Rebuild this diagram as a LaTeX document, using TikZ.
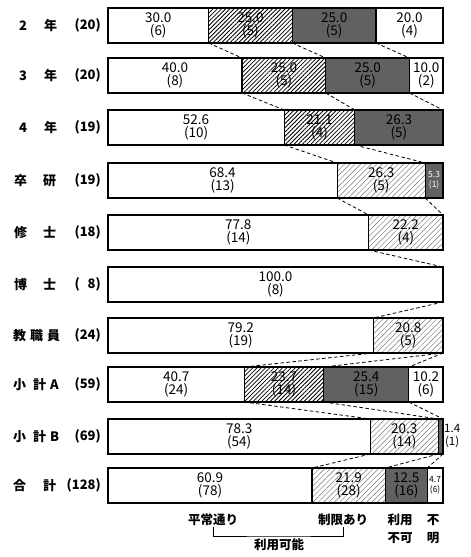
\documentclass[tikz,border=0pt]{standalone}
\usepackage{fontspec}
\setmainfont{Noto Sans CJK JP}
\usepackage{tikz}
\usetikzlibrary{positioning, patterns.meta}

\begin{document}
\begin{tikzpicture}
  [
    x=1pt, y=-1pt,
    font=\fontsize{13.5}{13.5}\selectfont,
    Seg/.style={rectangle, draw=black, line width=1.1pt, inner sep=0pt, outer sep=0pt, minimum height=35pt, align=center, text=black},
    pct/.style={minimum width=#1*3.35pt},
    Plain/.style={Seg, fill=white},
    Hatch/.style={Seg, pattern={Lines[angle=45, distance=3pt, line width=0.8pt]}},
    Light/.style={Seg, pattern={Lines[angle=45, distance=3.8pt, line width=0.45pt]}, pattern color=black!55},
    Dark/.style={Seg, fill=black!62},
    Small/.style={font=\fontsize{8.5}{10}\selectfont},
    Name/.style={anchor=west, font=\fontsize{13}{14}\selectfont\bfseries, inner sep=0pt},
    Count/.style={anchor=east, font=\fontsize{13}{14}\selectfont\bfseries, inner sep=0pt},
    Link/.style={draw, dash pattern=on 3.5pt off 2.5pt, line width=0.8pt},
    Legend/.style={font=\fontsize{12.5}{18}\selectfont\bfseries, inner sep=1pt, align=center}
  ]
  \useasboundingbox (0,0) rectangle (471,557);

  % Row labels
  \node[Name] (n2) at (19,25.5) {2\hspace{17pt}年};
  \node[Count] (c2) at (101,25.5) {(20)};
  \node[Name] (n3) at (19,75.5) {3\hspace{17pt}年};
  \node[Count] (c3) at (101,75.5) {(20)};
  \node[Name] (n4) at (19,127.5) {4\hspace{17pt}年};
  \node[Count] (c4) at (101,127.5) {(19)};
  \node[Name] (nsk) at (14,180.5) {卒\hspace{16pt}研};
  \node[Count] (csk) at (101,180.5) {(19)};
  \node[Name] (nms) at (14,232.5) {修\hspace{16pt}士};
  \node[Count] (cms) at (101,232.5) {(18)};
  \node[Name] (ndr) at (14,284.5) {博\hspace{16pt}士};
  \node[Count] (cdr) at (101,284.5) {(\hphantom{0}8)};
  \node[Name] (nst) at (13,335.5) {教\hspace{4pt}職\hspace{4pt}員};
  \node[Count] (cst) at (101,335.5) {(24)};
  \node[Name] (nsa) at (13,384.5) {小\hspace{7pt}計\hspace{4pt}A};
  \node[Count] (csa) at (101,384.5) {(59)};
  \node[Name] (nsb) at (13,436.5) {小\hspace{7pt}計\hspace{4pt}B};
  \node[Count] (csb) at (101,436.5) {(69)};
  \node[Name] (ntt) at (13,485.5) {合\hspace{17pt}計};
  \node[Count] (ctt) at (101,485.5) {(128)};

  % Bars
  \node[Plain, pct=30.0, anchor=west] (y2a) at (108,25.5) {30.0\\(6)};
  \node[Hatch, pct=25.0, right=0pt of y2a] (y2b) {25.0\\(5)};
  \node[Dark, pct=25.0, right=0pt of y2b] (y2c) {25.0\\(5)};
  \node[Plain, pct=20.0, right=0pt of y2c] (y2d) {20.0\\(4)};

  \node[Plain, pct=40.0, anchor=west] (y3a) at (108,75.5) {40.0\\(8)};
  \node[Hatch, pct=25.0, right=0pt of y3a] (y3b) {25.0\\(5)};
  \node[Dark, pct=25.0, right=0pt of y3b] (y3c) {25.0\\(5)};
  \node[Plain, pct=10.0, right=0pt of y3c] (y3d) {10.0\\(2)};

  \node[Plain, pct=52.6, anchor=west] (y4a) at (108,127.5) {52.6\\(10)};
  \node[Hatch, pct=21.1, right=0pt of y4a] (y4b) {21.1\\(4)};
  \node[Dark, pct=26.3, right=0pt of y4b] (y4c) {26.3\\(5)};

  \node[Plain, pct=68.4, anchor=west] (ska) at (108,180.5) {68.4\\(13)};
  \node[Light, pct=26.3, right=0pt of ska] (skb) {26.3\\(5)};
  \node[Dark, Small, text=white, pct=5.3, right=0pt of skb] (skc) {5.3\\(1)};

  \node[Plain, pct=77.8, anchor=west] (msa) at (108,232.5) {77.8\\(14)};
  \node[Light, pct=22.2, right=0pt of msa] (msb) {22.2\\(4)};

  \node[Plain, pct=100, anchor=west] (dra) at (108,284.5) {100.0\\(8)};

  \node[Plain, pct=79.2, anchor=west] (sta) at (108,335.5) {79.2\\(19)};
  \node[Light, pct=20.8, right=0pt of sta] (stb) {20.8\\(5)};

  \node[Plain, pct=40.7, anchor=west] (saa) at (108,384.5) {40.7\\(24)};
  \node[Hatch, pct=23.7, right=0pt of saa] (sab) {23.7\\(14)};
  \node[Dark, pct=25.4, right=0pt of sab] (sac) {25.4\\(15)};
  \node[Plain, pct=10.2, right=0pt of sac] (sad) {10.2\\(6)};

  \node[Plain, pct=78.3, anchor=west] (sba) at (108,436.5) {78.3\\(54)};
  \node[Light, pct=20.3, right=0pt of sba] (sbb) {20.3\\(14)};
  \node[Dark, pct=1.4, right=0pt of sbb,
    label={[align=center, inner sep=1pt, font=\fontsize{11.5}{13}\selectfont]right:{1.4\\(1)}}] (sbc) {};

  \node[Plain, pct=60.9, anchor=west] (tta) at (108,485.5) {60.9\\(78)};
  \node[Light, pct=21.9, right=0pt of tta] (ttb) {21.9\\(28)};
  \node[Dark, pct=12.5, right=0pt of ttb] (ttc) {12.5\\(16)};
  \node[Plain, Small, pct=4.7, right=0pt of ttc] (ttd) {4.7\\(6)};

  % Lines
  \path[Link] (y2a.south east) -- (y3a.north east);
  \path[Link] (y2b.south east) -- (y3b.north east);
  \path[Link] (y2c.south east) -- (y3c.north east);
  \path[Link] (y3a.south east) -- (y4a.north east);
  \path[Link] (y3b.south east) -- (y4b.north east);
  \path[Link] (y3c.south east) -- (y4c.north east);
  \path[Link] (y4a.south east) -- (ska.north east);
  \path[Link] (y4b.south east) -- (skb.north east);
  \path[Link] (ska.south east) -- (msa.north east);
  \path[Link] (skb.south east) -- (msb.north east);
  \path[Link] (msa.south east) -- (dra.north east);
  \path[Link] (dra.south east) -- (sta.north east);
  \path[Link] (sta.south east) -- (saa.north east);
  \path[Link] (stb.south east) -- (sab.north east);
  \path[Link] (stb.south east) -- (sac.north east);
  \path[Link] (saa.south east) -- (sba.north east);
  \path[Link] (sab.south east) -- (sbb.north east);
  \path[Link] (sac.south east) -- (sbc.north east);
  \path[Link] (sba.south east) -- (tta.north east);
  \path[Link] (sbb.south east) -- (ttb.north east);
  \path[Link] (sbc.south east) -- (ttc.north east);

  % Legend
  \node[Legend] (normal) at (213,520) {平常通り};
  \node[Legend] (limited) at (343,520) {制限あり};
  \node[Legend] (unusable) at (400,529) {利用\\不可};
  \node[Legend] (unknown) at (433,529) {不\\明};
  \node[Legend, anchor=north, inner sep=3pt] (usable) at (279,536) {利用可能};
  \draw[line width=0.8pt] (normal.south) |- (usable.north) -| (limited.south);

\end{tikzpicture}
\end{document}
